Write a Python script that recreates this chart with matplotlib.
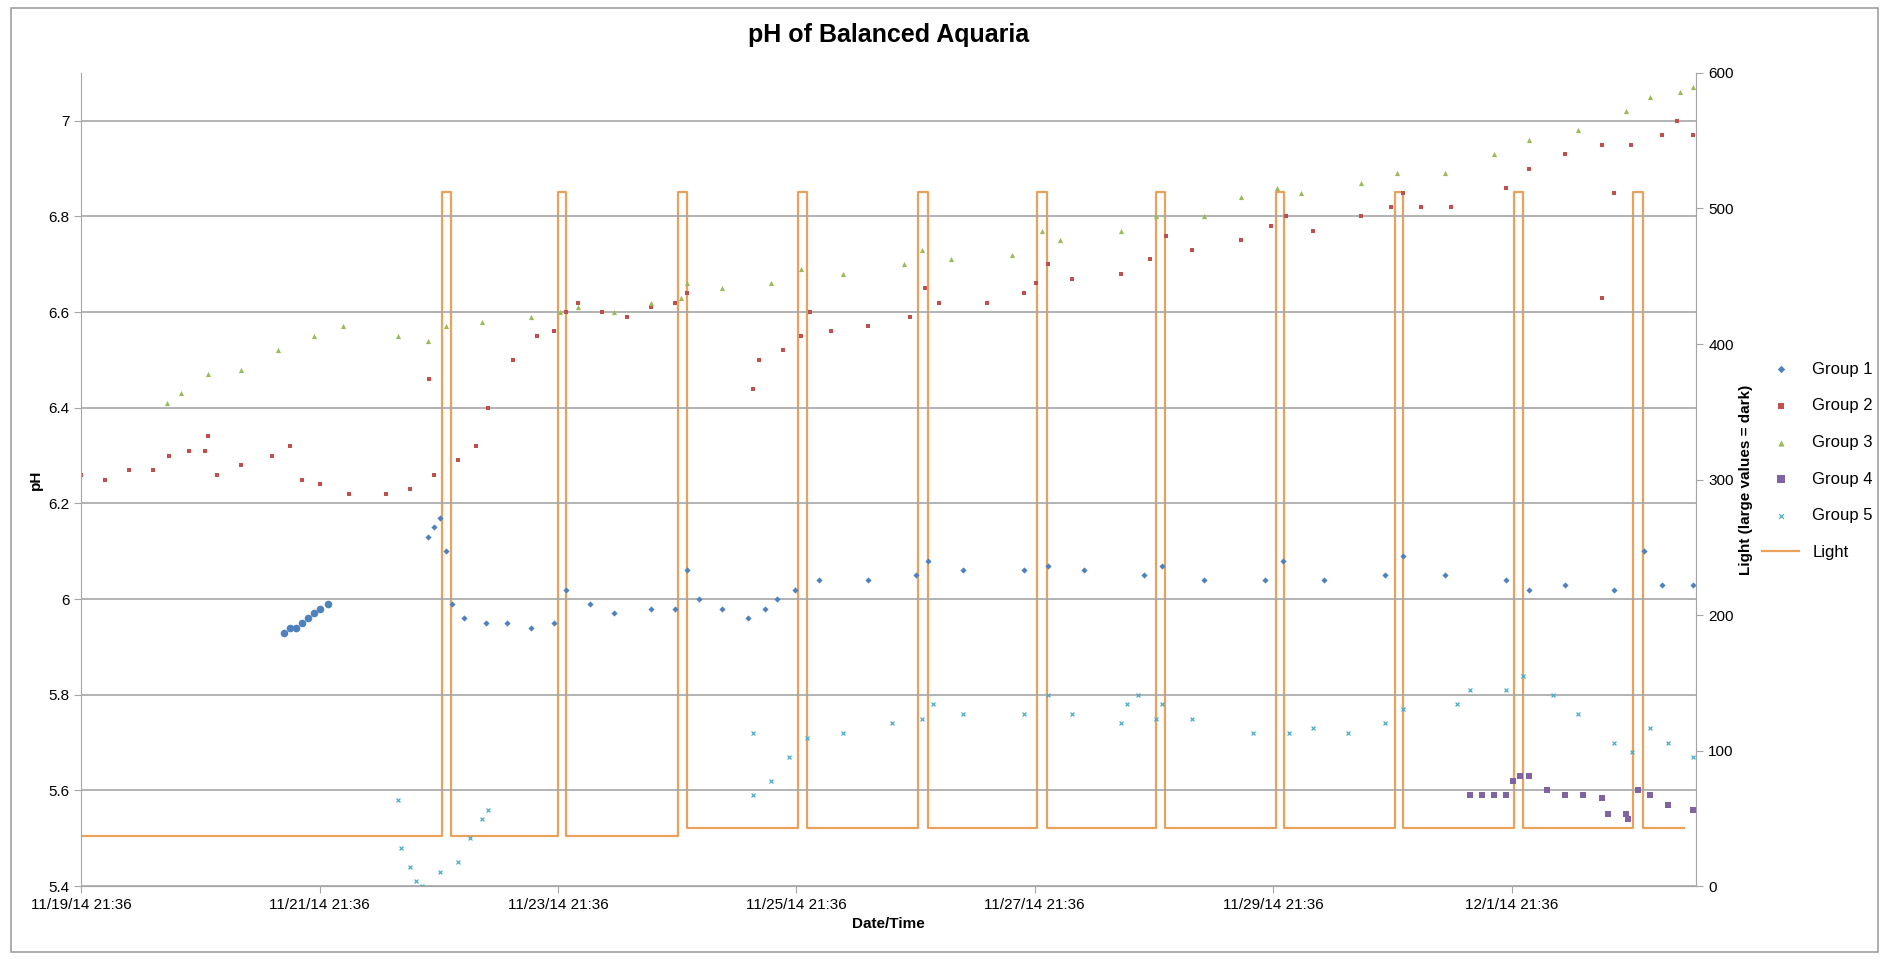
import numpy as np
import matplotlib.pyplot as plt
from matplotlib.patches import Rectangle

# x values are days since 11/19/14 21:36
g1_x = [1.70, 1.75, 1.80, 1.85, 1.90, 1.95, 2.00, 2.07, 2.91, 2.96, 3.01, 3.06, 3.11, 3.21, 3.40, 3.57, 3.77, 3.97, 4.07, 4.27, 4.47, 4.78, 4.98, 5.08, 5.18, 5.38, 5.59, 5.74, 5.84, 5.99, 6.19, 6.60, 7.00, 7.10, 7.40, 7.91, 8.11, 8.41, 8.92, 9.07, 9.42, 9.93, 10.08, 10.43, 10.94, 11.09, 11.44, 11.95, 12.15, 12.45, 12.86, 13.11, 13.26, 13.52]
g1_y = [5.93, 5.94, 5.94, 5.95, 5.96, 5.97, 5.98, 5.99, 6.13, 6.15, 6.17, 6.10, 5.99, 5.96, 5.95, 5.95, 5.94, 5.95, 6.02, 5.99, 5.97, 5.98, 5.98, 6.06, 6.00, 5.98, 5.96, 5.98, 6.00, 6.02, 6.04, 6.04, 6.05, 6.08, 6.06, 6.06, 6.07, 6.06, 6.05, 6.07, 6.04, 6.04, 6.08, 6.04, 6.05, 6.09, 6.05, 6.04, 6.02, 6.03, 6.02, 6.10, 6.03, 6.03]

g2_x = [0.00, 0.20, 0.40, 0.60, 0.74, 0.90, 1.04, 1.06, 1.14, 1.34, 1.60, 1.75, 1.85, 2.00, 2.25, 2.56, 2.76, 2.92, 2.96, 3.16, 3.31, 3.41, 3.62, 3.82, 3.97, 4.07, 4.17, 4.37, 4.58, 4.78, 4.98, 5.08, 5.64, 5.69, 5.89, 6.04, 6.11, 6.29, 6.60, 6.95, 7.08, 7.20, 7.60, 7.91, 8.01, 8.11, 8.31, 8.72, 8.97, 9.10, 9.32, 9.73, 9.98, 10.11, 10.33, 10.74, 10.99, 11.09, 11.24, 11.49, 11.95, 12.15, 12.45, 12.76, 12.76, 12.86, 13.00, 13.26, 13.39, 13.52]
g2_y = [6.26, 6.25, 6.27, 6.27, 6.30, 6.31, 6.31, 6.34, 6.26, 6.28, 6.30, 6.32, 6.25, 6.24, 6.22, 6.22, 6.23, 6.46, 6.26, 6.29, 6.32, 6.40, 6.50, 6.55, 6.56, 6.60, 6.62, 6.60, 6.59, 6.61, 6.62, 6.64, 6.44, 6.50, 6.52, 6.55, 6.60, 6.56, 6.57, 6.59, 6.65, 6.62, 6.62, 6.64, 6.66, 6.70, 6.67, 6.68, 6.71, 6.76, 6.73, 6.75, 6.78, 6.80, 6.77, 6.80, 6.82, 6.85, 6.82, 6.82, 6.86, 6.90, 6.93, 6.95, 6.63, 6.85, 6.95, 6.97, 7.00, 6.97]

g3_x = [0.72, 0.84, 1.06, 1.34, 1.65, 1.95, 2.20, 2.66, 2.91, 3.06, 3.36, 3.77, 4.02, 4.17, 4.47, 4.78, 5.03, 5.08, 5.38, 5.79, 6.04, 6.39, 6.90, 7.05, 7.30, 7.81, 8.06, 8.21, 8.72, 9.02, 9.42, 9.73, 10.03, 10.23, 10.74, 11.04, 11.44, 11.85, 12.15, 12.56, 12.96, 13.16, 13.41, 13.52]
g3_y = [6.41, 6.43, 6.47, 6.48, 6.52, 6.55, 6.57, 6.55, 6.54, 6.57, 6.58, 6.59, 6.60, 6.61, 6.60, 6.62, 6.63, 6.66, 6.65, 6.66, 6.69, 6.68, 6.70, 6.73, 6.71, 6.72, 6.77, 6.75, 6.77, 6.80, 6.80, 6.84, 6.86, 6.85, 6.87, 6.89, 6.89, 6.93, 6.96, 6.98, 7.02, 7.05, 7.06, 7.07]

g4_x = [11.65, 11.75, 11.85, 11.95, 12.01, 12.07, 12.15, 12.30, 12.45, 12.60, 12.76, 12.81, 12.96, 12.98, 13.06, 13.16, 13.31, 13.52]
g4_y = [5.59, 5.59, 5.59, 5.59, 5.62, 5.63, 5.63, 5.60, 5.59, 5.59, 5.585, 5.55, 5.55, 5.54, 5.60, 5.59, 5.57, 5.56]

g5_x = [2.66, 2.68, 2.76, 2.81, 2.86, 3.01, 3.16, 3.26, 3.36, 3.41, 5.64, 5.64, 5.79, 5.94, 6.09, 6.39, 6.80, 7.05, 7.15, 7.40, 7.91, 8.11, 8.31, 8.72, 8.77, 8.87, 9.02, 9.07, 9.32, 9.83, 10.13, 10.33, 10.63, 10.94, 11.09, 11.54, 11.65, 11.95, 12.10, 12.35, 12.56, 12.86, 13.01, 13.16, 13.31, 13.52]
g5_y = [5.58, 5.48, 5.44, 5.41, 5.40, 5.43, 5.45, 5.50, 5.54, 5.56, 5.72, 5.59, 5.62, 5.67, 5.71, 5.72, 5.74, 5.75, 5.78, 5.76, 5.76, 5.80, 5.76, 5.74, 5.78, 5.80, 5.75, 5.78, 5.75, 5.72, 5.72, 5.73, 5.72, 5.74, 5.77, 5.78, 5.81, 5.81, 5.84, 5.80, 5.76, 5.70, 5.68, 5.73, 5.70, 5.67]

light_on = [3.03, 4.00, 5.01, 6.01, 7.02, 8.02, 9.02, 10.02, 11.02, 12.02, 13.02]
light_off = [3.10, 4.07, 5.08, 6.09, 7.10, 8.10, 9.09, 10.09, 11.09, 12.10, 13.10]
# dark level of each segment between pulses (one more than pulses)
light_base = [37, 37, 37, 43, 43, 43, 43, 43, 43, 43, 43, 43]
light_peak = 512
light_end = 13.45

tick_labels = ['11/19/14 21:36', '11/21/14 21:36', '11/23/14 21:36', '11/25/14 21:36',
               '11/27/14 21:36', '11/29/14 21:36', '12/1/14 21:36']

# build the step signal from the pulse lists
lx, ly = [0.0], [light_base[0]]
for i, (on, off) in enumerate(zip(light_on, light_off)):
    lx += [on, on, off, off]
    ly += [light_base[i], light_peak, light_peak, light_base[i + 1]]
lx.append(light_end)
ly.append(light_base[-1])

plt.rcParams['font.family'] = ['Liberation Sans', 'DejaVu Sans']
fig = plt.figure(figsize=(18.89, 9.6), dpi=100)
fig.patches.append(Rectangle((0.006, 0.008), 0.988, 0.984, transform=fig.transFigure,
                             fill=False, edgecolor='#a0a0a0', lw=1.2))
ax = fig.add_axes([0.043, 0.077, 0.855, 0.847])
ax2 = ax.twinx()
ax.set_zorder(ax2.get_zorder() + 1)
ax.patch.set_visible(False)

ms = dict(s=10, linewidths=0)
h1 = ax.scatter(g1_x, g1_y, color='#4F81BD', marker='D', **ms, label='Group 1')
ax.scatter(g1_x[:8], g1_y[:8], color='#4F81BD', s=30, linewidths=0)
h2 = ax.scatter(g2_x, g2_y, color='#C0504D', marker='s', **ms, label='Group 2')
h3 = ax.scatter(g3_x, g3_y, color='#9BBB59', marker='^', s=14, linewidths=0, label='Group 3')
h4 = ax.scatter(g4_x, g4_y, color='#8064A2', marker='s', s=22, linewidths=0, label='Group 4')
h5 = ax.scatter(g5_x, g5_y, color='#4BACC6', marker='x', s=8, linewidths=0.9, label='Group 5')
hl, = ax2.plot(lx, ly, color='#E8A25C', lw=1.6, label='Light')

ax.set_xlim(0, 13.55)
ax.set_ylim(5.4, 7.1)
ax2.set_ylim(0, 600)
ax.set_yticks([5.4, 5.6, 5.8, 6.0, 6.2, 6.4, 6.6, 6.8, 7.0])
ax.set_yticklabels(['5.4', '5.6', '5.8', '6', '6.2', '6.4', '6.6', '6.8', '7'])
ax2.set_yticks(range(0, 601, 100))
ax.set_xticks(np.arange(0, 13, 2))
ax.set_xticklabels(tick_labels)
ax.grid(axis='y', color='#a6a6a6', lw=1.2)
ax.set_axisbelow(True)
for a in (ax, ax2):
    a.spines['top'].set_visible(False)
    for s in ('left', 'right', 'bottom'):
        a.spines[s].set_color('#a6a6a6')
    a.tick_params(colors='#a6a6a6', labelcolor='black', labelsize=11, length=5)
ax2.spines['left'].set_visible(False)

ax.set_title('pH of Balanced Aquaria', fontsize=18, fontweight='bold', pad=22)
ax.set_xlabel('Date/Time', fontsize=11, fontweight='bold')
ax.set_ylabel('pH', fontsize=11, fontweight='bold')
ax2.set_ylabel('Light (large values = dark)', fontsize=11, fontweight='bold')

fig.legend([h1, h2, h3, h4, h5, hl], ['Group 1', 'Group 2', 'Group 3', 'Group 4', 'Group 5', 'Light'],
           loc='center left', bbox_to_anchor=(0.925, 0.52), frameon=False, fontsize=12,
           labelspacing=1.3, markerscale=1.2, handlelength=2.2)

fig.savefig('out.png', dpi=100)
